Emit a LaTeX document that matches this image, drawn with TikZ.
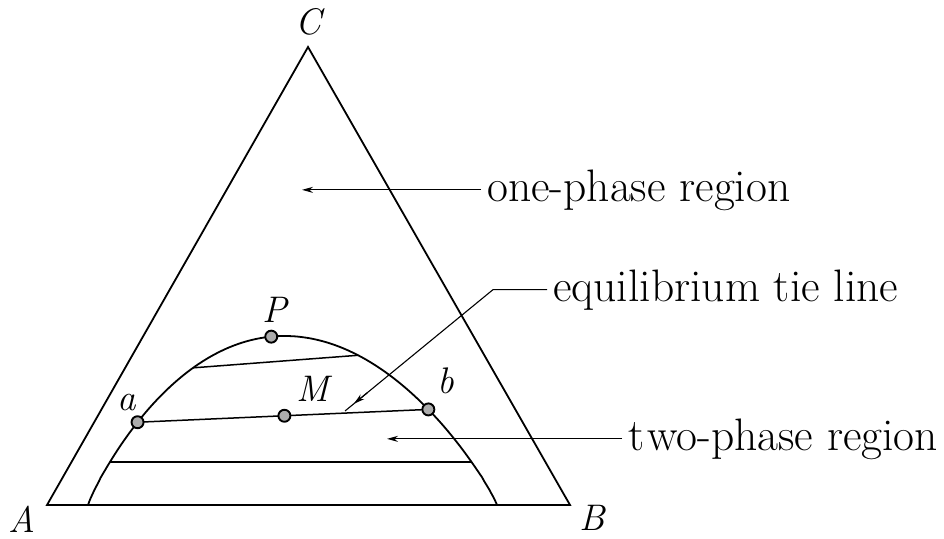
\documentclass[tikz,border=0pt]{standalone}
\usetikzlibrary{arrows.meta,calc}
\begin{document}
\begin{tikzpicture}[x=1pt,y=-1pt,
  declare function={bx(\u)=292.5+204.5*\u-8*(1-\u*\u); by(\u)=505-169*(1-\u*\u)^0.9;},
  edge/.style={line width=1.8pt, line join=miter},
  tie/.style={line width=1.5pt},
  lead/.style={line width=1.1pt},
  pt/.style={circle, draw, line width=1.9pt, fill=gray!65, minimum size=12pt, inner sep=0pt},
  lbl/.style={font=\fontsize{37}{40}\selectfont\itshape, inner sep=0pt},
  txt/.style={font=\fontsize{45.5}{52}\selectfont, inner sep=0pt, anchor=base west},
  tip/.style={-{Stealth[length=11pt,width=6pt]}}
]
\useasboundingbox (0,0) rectangle (944,538);
% triangle
\coordinate (A) at (47,505);
\coordinate (B) at (570,505);
\coordinate (C) at (308,47);
\draw[edge] (A) -- (B) -- (C) -- cycle;
% binodal curve
\draw[edge] plot[domain=-0.99999:0.99999, samples=241, variable=\u] ({bx(\u)},{by(\u)});
% tie lines (end points on the curve)
\coordinate (t1l) at ({bx(-0.455)},{by(-0.455)});
\coordinate (t1r) at ({bx(0.355)},{by(0.355)});
\coordinate (t3l) at ({bx(-0.884)},{by(-0.884)});
\coordinate (t3r) at ({bx(0.884)},{by(0.884)});
\coordinate (pa) at ({bx(-0.74)},{by(-0.74)});
\coordinate (pb) at ({bx(0.685)},{by(0.685)});
\coordinate (pp) at ({bx(-0.065)},{by(-0.065)});
\draw[tie] (t1l) -- (t1r);
\draw[tie] (t3l) -- (t3r);
\draw[tie] (pa) -- (pb);
% points
\node[pt] (P) at (pp) {};
\node[pt] (a) at (pa) {};
\node[pt] (M) at ($(pa)!0.505!(pb)$) {};
\node[pt] (b) at (pb) {};
% labels
\node[lbl] (Cl) at (308,22) {C};
\node[lbl] (Al) at (22,519) {A};
\node[lbl] (Bl) at (592,518) {B};
\node[lbl] (Pl) at (275,310) {P};
\node[lbl] (al) at (127,403) {a};
\node[lbl] (Ml) at (313,389) {M};
\node[lbl] (bl) at (446,381) {b};
% one-phase
\node[txt] (one) at (487,201) {one-phase region};
\coordinate (onetip) at (302,192);
\draw[lead,tip] ([xshift=-6pt]one.west) -- (one.west -| onetip);
% equilibrium tie line
\node[txt] (eq) at (553,301) {equilibrium tie line};
\coordinate (knee) at (493,290);
\coordinate (eqend) at (345,411);
\draw[lead] ([xshift=-6pt]eq.west) -- (eq.west -| knee) -- (eqend);
\draw[lead,tip] ($(knee)!0.85!(eqend)$) -- ($(knee)!0.94!(eqend)$);
% two-phase
\node[txt] (two) at (628,450) {t\kern3pt wo-phase region};
\coordinate (twotip) at (387,440);
\draw[lead,tip] ([xshift=-6pt]two.west) -- (two.west -| twotip);
\end{tikzpicture}
\end{document}
